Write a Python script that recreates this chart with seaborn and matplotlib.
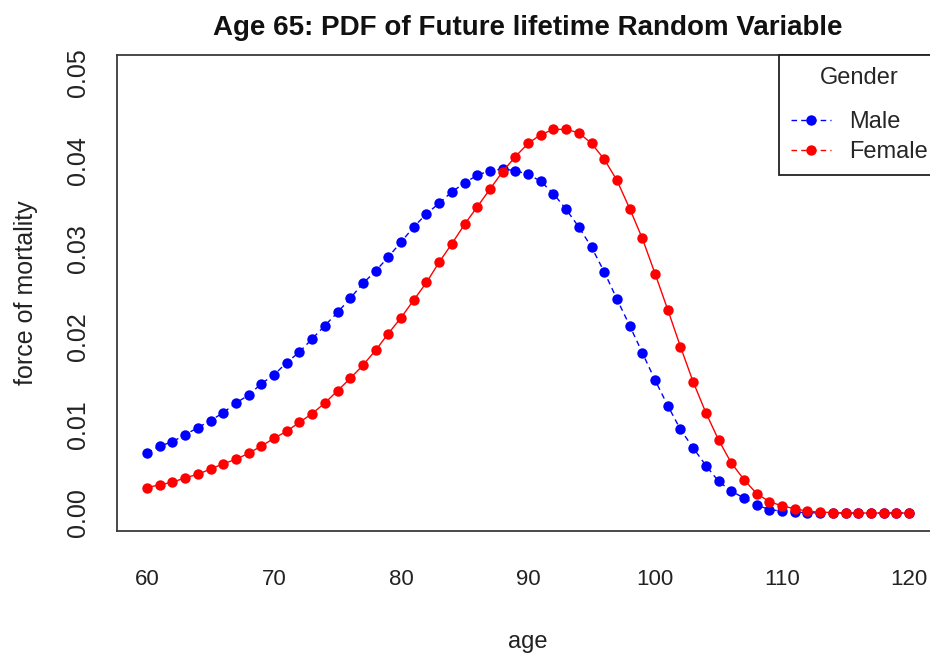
import matplotlib
matplotlib.use("Agg")
import matplotlib.pyplot as plt
from matplotlib.lines import Line2D
import numpy as np
import pandas as pd
import seaborn as sns

# Density of the future lifetime for a life aged 65, by gender (ages 60..120)
ages = list(range(60, 121))

male = [
    0.0068, 0.0076, 0.0081, 0.0089, 0.0097, 0.0105, 0.0114, 0.0125, 0.0134, 0.0147,
    0.0157, 0.0171, 0.0183, 0.0198, 0.0213, 0.0228, 0.0244, 0.0261, 0.0275, 0.0291,
    0.0308, 0.0325, 0.0340, 0.0352, 0.0365, 0.0375, 0.0384, 0.0389, 0.0391, 0.0389,
    0.0385, 0.0377, 0.0363, 0.0345, 0.0325, 0.0302, 0.0274, 0.0243, 0.0213, 0.0182,
    0.0151, 0.0122, 0.0095, 0.0074, 0.0054, 0.0036, 0.0025, 0.0017, 0.0009, 0.0004,
    0.0002, 0.0001, 0.00004, 0.00001, 0.0, 0.0, 0.0, 0.0, 0.0, 0.0, 0.0,
]

female = [
    0.0029, 0.0032, 0.0035, 0.0040, 0.0044, 0.0050, 0.0056, 0.0061, 0.0068, 0.0076,
    0.0085, 0.0093, 0.0103, 0.0113, 0.0125, 0.0139, 0.0153, 0.0168, 0.0185, 0.0204,
    0.0222, 0.0242, 0.0262, 0.0285, 0.0306, 0.0328, 0.0348, 0.0368, 0.0388, 0.0405,
    0.0420, 0.0430, 0.0436, 0.0436, 0.0432, 0.0420, 0.0402, 0.0378, 0.0346, 0.0312,
    0.0272, 0.0231, 0.0189, 0.0149, 0.0114, 0.0083, 0.0057, 0.0038, 0.0022, 0.0013,
    0.0008, 0.0005, 0.0002, 0.0001, 0.00005, 0.0, 0.0, 0.0, 0.0, 0.0, 0.0,
]

genders = ["Male", "Female"]
colors = {"Male": "#0000ff", "Female": "#ff0000"}
x_ticks = [60, 70, 80, 90, 100, 110, 120]
y_ticks = [0.00, 0.01, 0.02, 0.03, 0.04, 0.05]

df = pd.concat([
    pd.DataFrame({"age": ages, "pdf": male, "Gender": "Male"}),
    pd.DataFrame({"age": ages, "pdf": female, "Gender": "Female"}),
], ignore_index=True)

sns.set_style("white")
plt.rcParams["font.family"] = ["Liberation Sans", "DejaVu Sans"]

fig = plt.figure(figsize=(9.30, 6.53), dpi=100)
ax = fig.add_axes([0.1253, 0.1874, 0.885, 0.7277])

sns.lineplot(
    data=df, x="age", y="pdf", hue="Gender", style="Gender",
    hue_order=genders, style_order=genders, palette=colors,
    dashes={"Male": (4, 3), "Female": ""},
    markers={"Male": "o", "Female": "o"},
    markersize=7.5, markeredgewidth=0, linewidth=1.0,
    legend=False, ax=ax,
)

ax.set_xlim(57.6, 122.4)
ax.set_ylim(-0.002, 0.052)
ax.set_xticks(x_ticks)
ax.set_xticklabels([str(t) for t in x_ticks])
ax.set_yticks(y_ticks)
ax.set_yticklabels([f"{t:.2f}" for t in y_ticks], rotation=90, va="center")

for s in ax.spines.values():
    s.set_visible(True)
    s.set_color("#3a3a3a")
    s.set_linewidth(1.3)

ax.tick_params(axis="both", which="major", direction="out", length=10,
               width=1.2, color="#3a3a3a", labelcolor="#222222")
ax.tick_params(axis="x", labelsize=16, pad=17.5)
ax.tick_params(axis="y", labelsize=18, pad=9)
ax.grid(False)

ax.set_xlabel("age", fontsize=17, color="#222222", labelpad=30)
ax.set_ylabel("force of mortality", fontsize=18, color="#222222", labelpad=20)
ax.set_title("Age 65: PDF of Future lifetime Random Variable",
             fontsize=20, fontweight="bold", color="#111111", pad=15)

handles = [
    Line2D([0], [0], color=colors[g], linestyle=(0, (4, 3)), linewidth=1.0,
           marker="o", markersize=7.5, markeredgewidth=0)
    for g in genders
]
leg = ax.legend(handles, genders, title="Gender", loc="upper right",
                bbox_to_anchor=(1.0, 1.0), borderaxespad=0.0,
                fontsize=17, title_fontsize=17, frameon=True, fancybox=False,
                edgecolor="#222222", framealpha=1.0, handlelength=1.7,
                handletextpad=0.75, borderpad=0.5, labelspacing=0.34)
leg.get_frame().set_linewidth(1.3)
# a little more room between the legend title and its entries
leg._legend_box.sep = 15.5

fig.savefig("out.png", dpi=100)
